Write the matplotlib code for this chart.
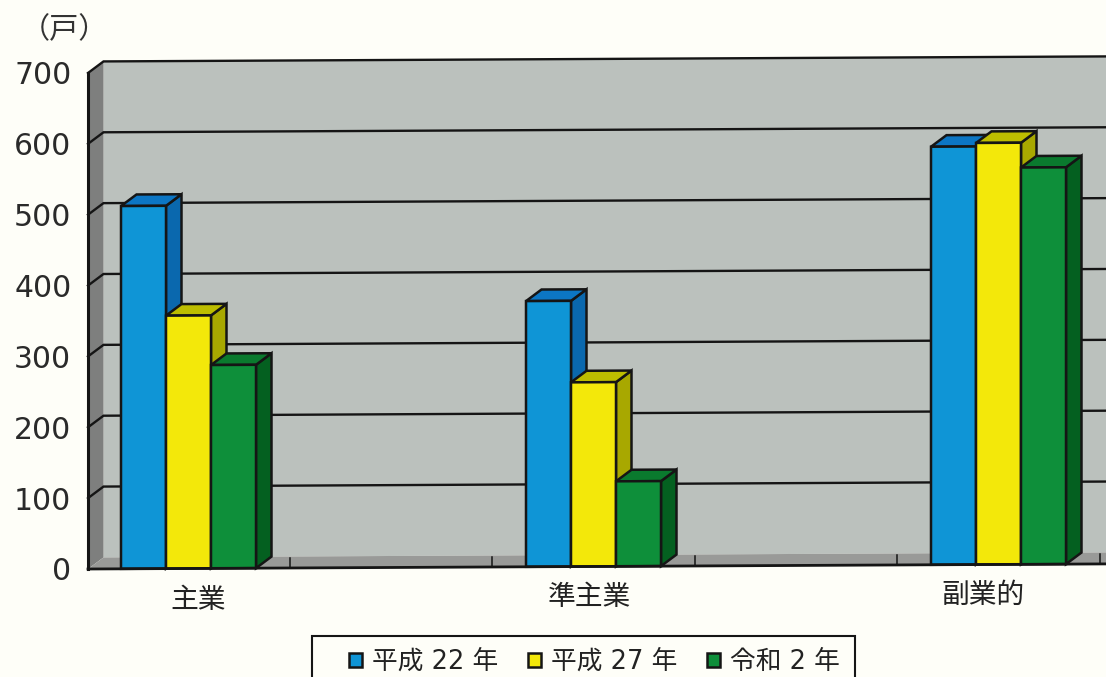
import matplotlib
matplotlib.use("Agg")
import matplotlib.pyplot as plt
from matplotlib.patches import Polygon, Patch, Rectangle
from matplotlib.transforms import Affine2D

categories = ["主業", "準主業", "副業的"]
series_names = ["平成 22 年", "平成 27 年", "令和 2 年"]
heisei22 = [512, 375, 590]
heisei27 = [357, 260, 595]
reiwa2 = [287, 120, 560]
yticks = [0, 100, 200, 300, 400, 500, 600, 700]

FRONT = ["#0F95D6", "#F3E80A", "#0E8F3A"]
TOP = ["#0C76C4", "#BDBD00", "#0A7A2E"]
SIDE = ["#0A68AE", "#A8A800", "#046020"]
INK = "#151515"
CJK = "Noto Sans CJK JP"
W, H = 1106, 677

fig = plt.figure(figsize=(W / 100, H / 100), dpi=100, facecolor="#FEFEF8")
ax = fig.add_axes([88 / W, (H - 569) / H, (W - 88) / W, 496 / H])
ax.set_xlim((88 - 188.5) / 405, (W - 188.5) / 405)
ax.set_ylim(0, 700)
ax.set_autoscale_on(False)
ax.patch.set_visible(False)
for s in ax.spines.values():
    s.set_visible(False)

# The scan is tilted slightly: shear the data transform in display space.
SLOPE = 0.005
tr = ax.transData + Affine2D().translate(-88, 0) + Affine2D.from_values(1, SLOPE, 0, 1, 0, 0) + Affine2D().translate(88, 0)

xmin, xmax = ax.get_xlim()
DX = 15.5 / 405        # depth in category units
DY = 11.5 * 700 / 496  # depth in value units
BAR_W = 45 / 405

def poly(pts, fc, z, ec="none", lw=0):
    ax.add_patch(Polygon(pts, closed=True, fc=fc, ec=ec, lw=lw, transform=tr, zorder=z, clip_on=False))

# back wall, side wall, floor
poly([(xmin + DX, DY), (xmax + DX, DY), (xmax + DX, 700 + DY), (xmin + DX, 700 + DY)], "#BBC1BD", 1)
poly([(xmin, 0), (xmin + DX, DY), (xmin + DX, 700 + DY), (xmin, 700)], "#7E7F7E", 1.1)
poly([(xmin, 0), (xmax, 0), (xmax + DX, DY), (xmin + DX, DY)], "#999A98", 1.1)

# gridlines with their diagonal on the side wall
for v in yticks[1:]:
    ax.plot([xmin, xmin + DX, xmax + DX], [v, v + DY, v + DY], color=INK, lw=1.7,
            transform=tr, zorder=2, clip_on=False, solid_joinstyle="miter")
ax.plot([xmin, xmin], [0, 700], color=INK, lw=2.2, transform=tr, zorder=6, clip_on=False)

# floor ticks between category slots
for i in range(-1, 5):
    x = 0.25 + i * 0.5
    if x > xmin + 0.01:
        ax.plot([x, x], [0, DY * 0.9], color=INK, lw=1.1, transform=tr, zorder=2, clip_on=False)

# bars
for j, vals in enumerate([heisei22, heisei27, reiwa2]):
    for i, v in enumerate(vals):
        left = i + (j - 1.5) * BAR_W
        right = left + BAR_W
        z = 3 + j * 0.1
        poly([(right, 0), (right + DX, DY), (right + DX, v + DY), (right, v)], SIDE[j], z, INK, 1.8)
        poly([(left, v), (right, v), (right + DX, v + DY), (left + DX, v + DY)], TOP[j], z, INK, 1.8)
    lefts = [i + (j - 1) * BAR_W for i in range(len(vals))]
    ax.bar(lefts, vals, width=BAR_W, color=FRONT[j], edgecolor=INK, linewidth=1.8,
           transform=tr, zorder=3.05 + j * 0.1, clip_on=False)

ax.plot([xmin, xmax], [0, 0], color=INK, lw=2, transform=tr, zorder=6, clip_on=False)

# axes text
ax.set_xticks([])
ax.set_yticks(yticks)
ax.tick_params(axis="y", length=0, pad=12, labelsize=21.5, labelcolor="#2a2a2a")

label_offset = [(9.5, -32), (-4.5, -31), (-15.5, -30)]
for i, c in enumerate(categories):
    ax.annotate(c, xy=(i, 0), xycoords=tr, xytext=(label_offset[i][0] / 1.389, label_offset[i][1] / 1.389),
                textcoords="offset points", ha="center", va="center", fontsize=20,
                family=CJK, color="#222222", annotation_clip=False)

fig.text(64 / W, 1 - 30 / H, "（戸）", ha="center", va="center", fontsize=21, family=CJK, color="#333333")

# legend
fig.add_artist(Rectangle((312 / W, -20 / H), 543 / W, (H - 636 + 20) / H, transform=fig.transFigure,
                         fc="none", ec=INK, lw=1.5))
handles = [Patch(fc=FRONT[k], ec=INK, lw=1.8) for k in range(3)]
fig.legend(handles, series_names, loc="center left", bbox_to_anchor=(349 / W, 1 - 662 / H), ncol=3,
           frameon=False, borderpad=0, borderaxespad=0, handlelength=0.5, handleheight=0.5,
           handletextpad=0.4, columnspacing=1.15,
           prop={"family": ["DejaVu Sans", CJK], "size": 18.5}, labelcolor="#222222")

fig.savefig("out.png", dpi=100, facecolor=fig.get_facecolor())
